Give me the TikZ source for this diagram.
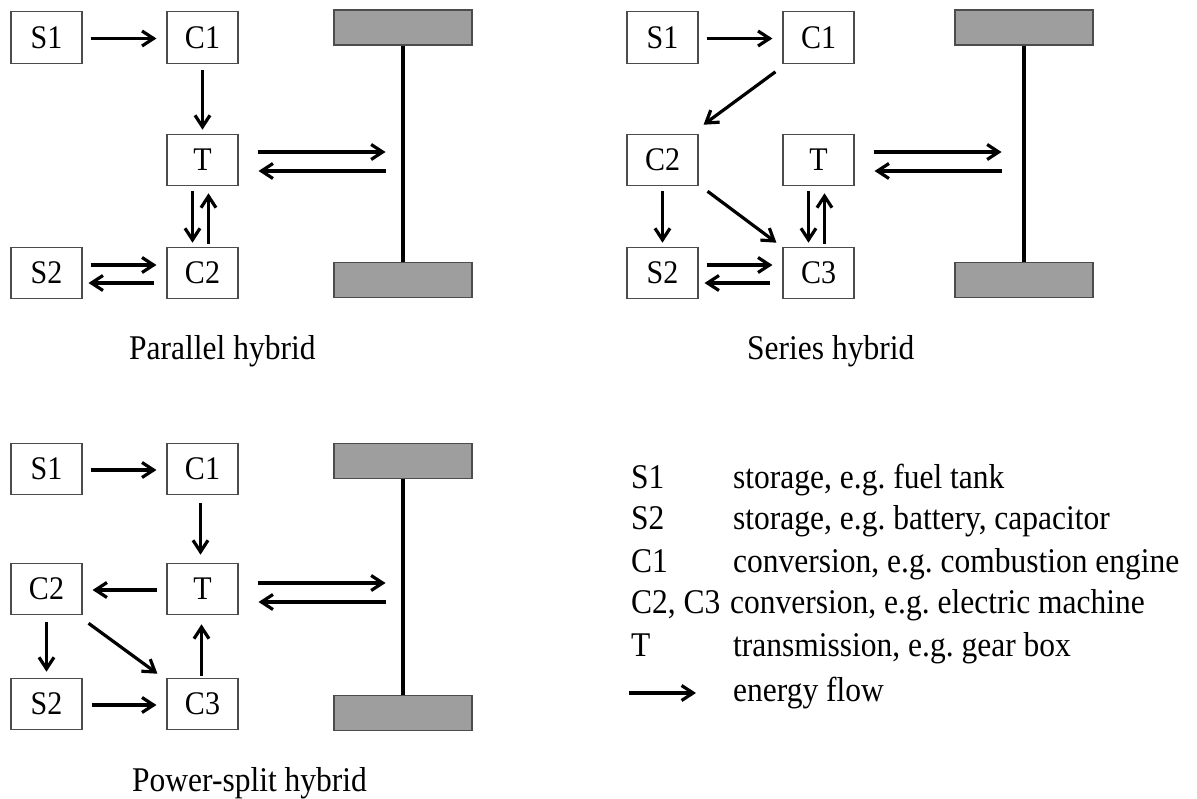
\documentclass[tikz,border=0pt]{standalone}
\usepackage{graphicx}
\usepackage{fontspec}
\setmainfont{Liberation Serif}
\usetikzlibrary{arrows.meta,calc}
\newcommand{\vs}[1]{\scalebox{1}[1.1]{#1}}
\frenchspacing
\begin{document}
\begin{tikzpicture}[x=1pt,y=-1pt,
  blk/.style={draw=black!70,line width=1.1pt,minimum width=71pt,minimum height=51.5pt,inner sep=0pt,font=\fontsize{30}{36}\selectfont},
  flow/.style={line width=3.2pt,-{Straight Barb[length=11.5pt,width=15pt,line width=3.2pt]}},
  wheel/.style={draw=black!70,fill=black!38,line width=1.1pt,minimum width=138pt,minimum height=35pt,inner sep=0pt},
  axle/.style={line width=3.2pt},
  captxt/.style={font=\fontsize{31.5}{36}\selectfont,anchor=base west,inner sep=0pt},
  leg/.style={font=\fontsize{31.5}{36}\selectfont,anchor=base west,inner sep=0pt}]
\fill[white] (0,0) rectangle (1197,799);
\useasboundingbox (0,0) rectangle (1197,799);

% ---------- Panel A: parallel hybrid ----------
\node[blk] (S1a) at (46.5,37.5) {\vs{S1}};
\node[blk] (C1a) at (202.5,37.5) {\vs{C1}};
\node[blk] (Ta) at (202.5,160) {\vs{T}};
\node[blk] (S2a) at (46.5,273) {\vs{S2}};
\node[blk] (C2a) at (202.5,273) {\vs{C2}};
\node[wheel] (W1a) at (403,27.5) {};
\node[wheel] (W2a) at (403,280) {};
\draw[axle] (W1a.south) -- (W2a.north);
\draw[flow] ($(S1a.east)+(8,1)$) -- ($(C1a.west)+(-10,1)$);
\draw[flow] ($(C1a.south)+(0,6)$) -- ($(Ta.north)+(0,-4)$);
\coordinate (Ea1) at ($(Ta.east)+(147,-8)$);
\coordinate (Ea2) at ($(Ta.east)+(147,11)$);
\draw[flow] ($(Ta.east)+(19,-8)$) -- (Ea1);
\draw[flow] (Ea2) -- ($(Ta.east)+(20,11)$);
\draw[flow] ($(Ta.south)+(-10,5)$) -- ($(C2a.north)+(-10,-4)$);
\draw[flow] ($(C2a.north)+(6,-3)$) -- ($(Ta.south)+(6,7)$);
\draw[flow] ($(S2a.east)+(8,-8)$) -- ($(C2a.west)+(-10,-8)$);
\draw[flow] ($(C2a.west)+(-12,10)$) -- ($(S2a.east)+(6,10)$);
\node[captxt] (capA) at (129,360) {\vs{Parallel hybrid}};

% ---------- Panel B: series hybrid ----------
\node[blk] (S1b) at (662.5,37.5) {\vs{S1}};
\node[blk] (C1b) at (818.5,37.5) {\vs{C1}};
\node[blk] (C2b) at (662.5,160) {\vs{C2}};
\node[blk] (Tb) at (818.5,160) {\vs{T}};
\node[blk] (S2b) at (662.5,273) {\vs{S2}};
\node[blk] (C3b) at (818.5,273) {\vs{C3}};
\node[wheel] (W1b) at (1024,27.5) {};
\node[wheel] (W2b) at (1024,280) {};
\draw[axle] (W1b.south) -- (W2b.north);
\draw[flow] ($(S1b.east)+(8,1)$) -- ($(C1b.west)+(-10,1)$);
\draw[flow] ($(C1b.south west)+(-7,8)$) -- ($(C2b.north east)+(5,-9)$);
\draw[flow] ($(C2b.south)+(0,5)$) -- ($(S2b.north)+(0,-4)$);
\draw[flow] ($(C2b.south east)+(9,5)$) -- ($(C3b.north west)+(-6,-4)$);
\coordinate (Eb1) at ($(Tb.east)+(147,-8)$);
\coordinate (Eb2) at ($(Tb.east)+(147,11)$);
\draw[flow] ($(Tb.east)+(19,-8)$) -- (Eb1);
\draw[flow] (Eb2) -- ($(Tb.east)+(20,11)$);
\draw[flow] ($(Tb.south)+(-10,5)$) -- ($(C3b.north)+(-10,-4)$);
\draw[flow] ($(C3b.north)+(6,-3)$) -- ($(Tb.south)+(6,7)$);
\draw[flow] ($(S2b.east)+(8,-8)$) -- ($(C3b.west)+(-10,-8)$);
\draw[flow] ($(C3b.west)+(-12,10)$) -- ($(S2b.east)+(6,10)$);
\node[captxt] (capB) at (747,360) {\vs{Series hybrid}};

% ---------- Panel C: power-split hybrid ----------
\node[blk] (S1c) at (46.5,469) {\vs{S1}};
\node[blk] (C1c) at (202.5,469) {\vs{C1}};
\node[blk] (C2c) at (46.5,589) {\vs{C2}};
\node[blk] (Tc) at (202.5,589) {\vs{T}};
\node[blk] (S2c) at (46.5,704) {\vs{S2}};
\node[blk] (C3c) at (202.5,704) {\vs{C3}};
\node[wheel] (W1c) at (403,461) {};
\node[wheel] (W2c) at (403,713) {};
\draw[axle] (W1c.south) -- (W2c.north);
\draw[flow] ($(S1c.east)+(8,1)$) -- ($(C1c.west)+(-10,1)$);
\draw[flow] ($(C1c.south)+(-2,8)$) -- ($(Tc.north)+(-2,-8)$);
\draw[flow] ($(Tc.west)+(-9,1)$) -- ($(C2c.east)+(10,1)$);
\coordinate (Ec1) at ($(Tc.east)+(147,-6)$);
\coordinate (Ec2) at ($(Tc.east)+(147,13)$);
\draw[flow] ($(Tc.east)+(19,-6)$) -- (Ec1);
\draw[flow] (Ec2) -- ($(Tc.east)+(20,13)$);
\draw[flow] ($(C2c.south)+(0,7)$) -- ($(S2c.north)+(0,-6)$);
\draw[flow] ($(C2c.south east)+(6,8)$) -- ($(C3c.north west)+(-9,-4)$);
\draw[flow] ($(C3c.north)+(-1,-2)$) -- ($(Tc.south)+(-1,9)$);
\draw[flow] ($(S2c.east)+(9,1)$) -- ($(C3c.west)+(-10,1)$);
\node[captxt] (capC) at (132,791) {\vs{Power-split hybrid}};

% ---------- Legend ----------
\node[leg] (l1) at (631,488) {\vs{S1}};
\node[leg] (d1) at (733,488) {\vs{storage, e.g. fuel tank}};
\node[leg] (l2) at (631,529) {\vs{S2}};
\node[leg] (d2) at (733,529) {\vs{storage, e.g. battery, capacitor}};
\node[leg] (l3) at (631,572) {\vs{C1}};
\node[leg] (d3) at (733,572) {\vs{conversion, e.g. combustion engine}};
\node[leg] (l4) at (631,613) {\vs{C2, C3}};
\node[leg] (d4) at (730,613) {\vs{conversion, e.g. electric machine}};
\node[leg] (l5) at (631,656) {\vs{T}};
\node[leg] (d5) at (733,656) {\vs{transmission, e.g. gear box}};
\coordinate (k1) at (629,693);
\coordinate (k2) at (696,693);
\draw[flow] (k1) -- (k2);
\node[leg] (d6) at (733,701) {\vs{energy flow}};
\end{tikzpicture}
\end{document}
